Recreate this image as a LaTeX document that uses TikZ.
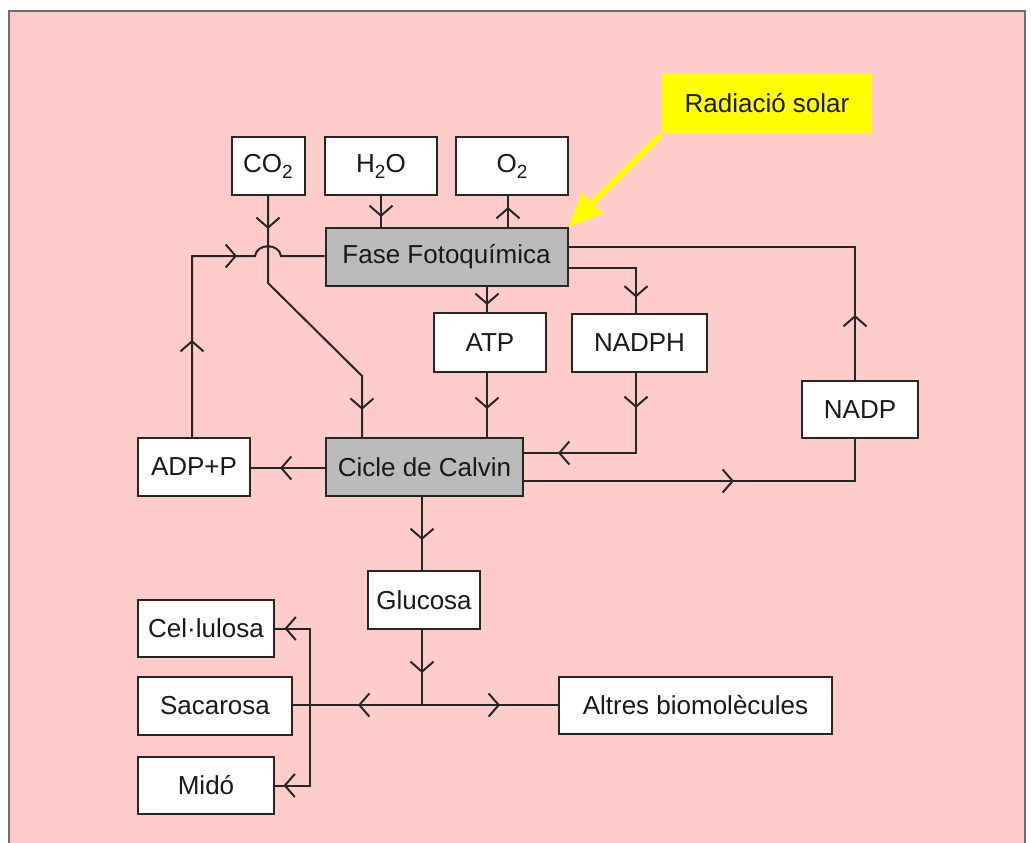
\documentclass[tikz,border=0pt]{standalone}
\usepackage{fontspec}
\setmainfont{Liberation Sans}
\usetikzlibrary{arrows.meta,decorations.markings}
\definecolor{bgpink}{RGB}{255,204,204}
\definecolor{framegray}{RGB}{110,110,110}
\definecolor{boxgray}{RGB}{187,187,187}
\definecolor{sunyellow}{RGB}{255,255,0}
\newcommand\subtwo{\raisebox{-6pt}{\fontsize{19}{20}\selectfont 2}}
\tikzset{
  ma/.style={postaction={decorate,decoration={markings,
      mark=at position #1 with {\arrow{Straight Barb[length=10pt,width=23pt]}}}}},
  conn/.style={draw=black!85, line width=2pt},
  box/.style={draw=black!85, line width=2pt, fill=white, inner sep=0pt,
      text=black!90, font=\fontsize{26}{30}\selectfont},
  graybox/.style={box, fill=boxgray},
}
\begin{document}
\begin{tikzpicture}[x=1pt,y=-1pt]
\useasboundingbox (0,0) rectangle (1031,843);
\clip (0,0) rectangle (1031,843);
\fill[white] (0,0) rectangle (1031,843);
\filldraw[fill=bgpink, draw=framegray, line width=2.5pt] (9,11) rectangle (1025,880);

% nodes
\node[box, minimum width=73pt, minimum height=58pt] (co2) at (268,166) {CO\subtwo};
\node[box, minimum width=112pt, minimum height=58pt] (h2o) at (381,166) {H\subtwo O};
\node[box, minimum width=112pt, minimum height=58pt] (o2) at (512,166) {O\subtwo};
\node[box, draw=none, fill=sunyellow, minimum width=210pt, minimum height=61pt] (sol) at (767,103.5) {Radiació solar};
\node[graybox, minimum width=242pt, minimum height=58pt] (fase) at (446.5,257) {Fase Fotoquímica};
\node[box, minimum width=112pt, minimum height=59pt] (atp) at (490,342.5) {ATP};
\node[box, minimum width=135pt, minimum height=58pt] (nadph) at (639.5,343) {NADPH};
\node[box, minimum width=116pt, minimum height=57pt] (nadp) at (860,409.5) {NADP};
\node[box, minimum width=112pt, minimum height=58pt] (adp) at (194,467) {ADP+P};
\node[graybox, minimum width=197pt, minimum height=58pt] (calvin) at (424.5,467) {Cicle de Calvin};
\node[box, minimum width=112pt, minimum height=58pt] (gluc) at (424,600) {Glucosa};
\node[box, minimum width=136pt, minimum height=57pt] (cel) at (206,628.5) {Cel·lulosa};
\node[box, minimum width=154pt, minimum height=58pt] (sac) at (215,706) {Sacarosa};
\node[box, minimum width=136pt, minimum height=57pt] (mido) at (206,785.5) {Midó};
\node[box, minimum width=273pt, minimum height=57pt] (altres) at (695.5,705.5) {Altres biomolècules};

% sunlight arrow
\draw[sunyellow, line width=6pt, -{Triangle[length=34pt,width=30pt,line width=0.1pt]}] (sol.south west) -- (fase.north east);

% CO2 -> Calvin
\coordinate (c1) at (co2.south |- 0,283);
\coordinate (c2) at (362,376);
\draw[conn, ma=33pt, ma=253pt] (co2.south) -- (c1) -- (c2) -- (c2 |- calvin.north);

% H2O -> Fase
\draw[conn, ma=21pt] (h2o.south) -- (h2o.south |- fase.north);

% Fase -> O2
\coordinate (o2b) at ([xshift=-4pt]o2.south);
\draw[conn, ma=20pt] (o2b |- fase.north) -- (o2b);

% Fase -> ATP -> Calvin
\coordinate (atpn) at ([xshift=-3pt]atp.north);
\coordinate (atps) at ([xshift=-3pt]atp.south);
\draw[conn, ma=18pt] (atpn |- fase.south) -- (atpn);
\draw[conn, ma=36pt] (atps) -- (atps |- calvin.north);

% Fase -> NADPH -> Calvin
\coordinate (npn) at ([xshift=-3.5pt]nadph.north);
\coordinate (nps) at ([xshift=-3.5pt]nadph.south);
\draw[conn, ma=97pt] (fase.east |- 0,268) -- (npn |- 0,268) -- (npn);
\draw[conn, ma=35pt, ma=158pt] (nps) -- (nps |- 0,453) -- (calvin.east |- 0,453);

% Calvin -> NADP -> Fase
\coordinate (nds) at ([xshift=-5pt]nadp.south);
\coordinate (ndn) at ([xshift=-5pt]nadp.north);
\draw[conn, ma=210pt] (calvin.east |- 0,481) -- (nds |- 0,481) -- (nds);
\draw[conn, ma=65pt] (ndn) -- (ndn |- 0,247) -- (fase.east |- 0,247);

% Calvin -> ADP+P -> Fase (hop over CO2 line)
\draw[conn, ma=45pt] (calvin.west |- 0,468) -- (adp.east |- 0,468);
\coordinate (adn) at ([xshift=-2pt]adp.north);
\coordinate (hop) at (co2.south |- 0,256);
\draw[conn, ma=97pt, ma=226pt] (adn) -- (adn |- 0,256) -- ([xshift=-13pt]hop)
  .. controls ([shift={(-11,-13)}]hop) and ([shift={(11,-13)}]hop) .. ([xshift=13pt]hop)
  -- (fase.west |- 0,256);

% Calvin -> Glucosa -> products
\coordinate (cvs) at ([xshift=-2.5pt]calvin.south);
\coordinate (gs) at ([xshift=-2pt]gluc.south);
\coordinate (jn) at (gs |- 0,705);
\coordinate (br) at (310,705);
\draw[conn, ma=43pt] (cvs) -- (cvs |- gluc.north);
\draw[conn, ma=43pt] (gs) -- (jn);
\draw[conn, ma=78pt] (jn) -- (altres.west |- jn);
\draw[conn, ma=64pt] (jn) -- (sac.east |- jn);
\draw[conn, ma=102pt] (br) -- (br |- cel.east) -- (cel.east);
\draw[conn, ma=107pt] (br) -- (br |- mido.east) -- (mido.east);
\end{tikzpicture}
\end{document}
